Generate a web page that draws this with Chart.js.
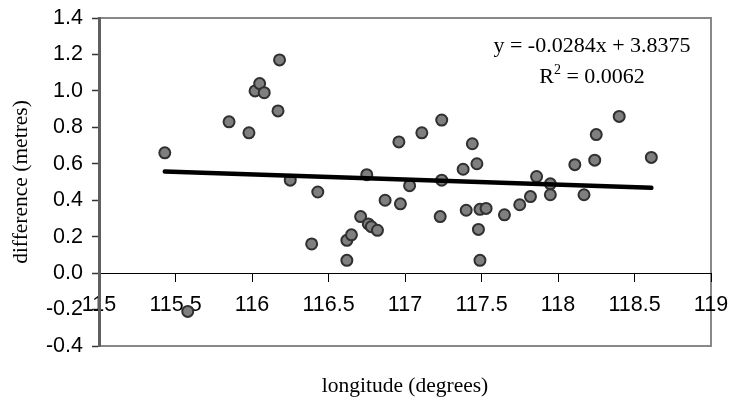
<!DOCTYPE html>
<html>
<head>
<meta charset="utf-8">
<script src="https://cdn.jsdelivr.net/npm/chart.js@4/dist/chart.umd.min.js"></script>
<style>
  body { margin: 0; background: #fff; }
  #wrap { width: 730px; height: 402px; }
</style>
</head>
<body>
<div id="wrap"><canvas id="diffChart" width="730" height="402"></canvas></div>
<script>
// longitude (degrees) / difference (metres)
const pointLon = [115.43, 115.58, 115.85, 115.98, 116.02, 116.05, 116.08, 116.17, 116.18, 116.25,
                  116.39, 116.43, 116.62, 116.62, 116.65, 116.71, 116.75, 116.76, 116.78, 116.82,
                  116.87, 116.96, 116.97, 117.03, 117.11, 117.23, 117.24, 117.24, 117.38, 117.40,
                  117.44, 117.47, 117.48, 117.49, 117.49, 117.53, 117.65, 117.75, 117.82, 117.86,
                  117.95, 117.95, 118.11, 118.17, 118.24, 118.25, 118.40, 118.61];
const pointDiff = [0.66, -0.21, 0.83, 0.77, 1.00, 1.04, 0.99, 0.89, 1.17, 0.51,
                   0.16, 0.445, 0.07, 0.18, 0.21, 0.31, 0.54, 0.27, 0.255, 0.235,
                   0.40, 0.72, 0.38, 0.48, 0.77, 0.31, 0.84, 0.51, 0.57, 0.345,
                   0.71, 0.60, 0.24, 0.07, 0.35, 0.355, 0.32, 0.375, 0.42, 0.53,
                   0.49, 0.43, 0.595, 0.43, 0.62, 0.76, 0.86, 0.635];

// linear trend line ends
const trendLon = [115.43, 118.61];
const trendDiff = [0.557, 0.468];

const equationText = "y = -0.0284x + 3.8375";
const r2Value = "0.0062";
const xTitle = "longitude (degrees)";
const yTitle = "difference (metres)";

const SANS = "'Liberation Sans', Arial, sans-serif";
const SERIF = "'Liberation Serif', 'Times New Roman', serif";

// frame + equation + x title
const extras = {
    id: 'extras',
    beforeDraw(chart) {
        const { ctx, chartArea: a } = chart;
        ctx.save();
        ctx.strokeStyle = '#888888';
        ctx.lineWidth = 2;
        ctx.beginPath();
        ctx.moveTo(a.left, a.top);
        ctx.lineTo(a.right, a.top);
        ctx.lineTo(a.right, a.bottom);
        ctx.lineTo(a.left, a.bottom);
        ctx.stroke();
        ctx.restore();
    },
    afterDraw(chart) {
        const { ctx, chartArea: a } = chart;
        ctx.save();
        ctx.fillStyle = '#000';
        ctx.textBaseline = 'alphabetic';
        const cx = a.right - 119;

        ctx.font = `22px ${SERIF}`;
        ctx.textAlign = 'center';
        ctx.fillText(equationText, cx, a.top + 34);

        // R² = ...
        const big = `22px ${SERIF}`, small = `14px ${SERIF}`;
        ctx.font = big;
        const wR = ctx.measureText('R').width;
        const wRest = ctx.measureText(' = ' + r2Value).width;
        ctx.font = small;
        const w2 = ctx.measureText('2').width;
        let x = cx - (wR + w2 + wRest) / 2;
        const base = a.top + 65;
        ctx.textAlign = 'left';
        ctx.font = big;
        ctx.fillText('R', x, base);
        ctx.font = small;
        ctx.fillText('2', x + wR, base - 9);
        ctx.font = big;
        ctx.fillText(' = ' + r2Value, x + wR + w2, base);

        ctx.font = `21.5px ${SERIF}`;
        ctx.textAlign = 'center';
        ctx.textBaseline = 'middle';
        ctx.fillText(xTitle, (a.left + a.right) / 2, 386);
        ctx.restore();
    }
};

new Chart(document.getElementById('diffChart'), {
    type: 'scatter',
    data: {
        datasets: [
            {
                label: 'difference',
                data: pointLon.map((x, i) => ({ x, y: pointDiff[i] })),
                backgroundColor: '#7f7f7f',
                borderColor: '#303030',
                borderWidth: 2,
                pointRadius: 5.5,
                pointHoverRadius: 5.5,
                order: 1
            },
            {
                label: 'trend',
                type: 'line',
                data: trendLon.map((x, i) => ({ x, y: trendDiff[i] })),
                borderColor: '#000',
                borderWidth: 4.5,
                borderCapStyle: 'round',
                pointRadius: 0,
                fill: false,
                order: 0
            }
        ]
    },
    options: {
        responsive: false,
        animation: false,
        layout: { padding: { left: 0, right: 19, top: 18, bottom: 56 } },
        plugins: { legend: { display: false }, tooltip: { enabled: false } },
        scales: {
            x: {
                type: 'linear',
                position: { y: 0 },
                min: 115, max: 119,
                afterFit: s => { s.paddingLeft = 0; s.paddingRight = 0; },
                grid: { drawOnChartArea: false, tickLength: 8, color: '#000', tickColor: '#000' },
                border: { color: '#000', width: 1 },
                ticks: {
                    stepSize: 0.5,
                    padding: 11,
                    color: '#000',
                    font: { family: SANS, size: 21.5 },
                    callback: v => String(v)
                }
            },
            y: {
                type: 'linear',
                position: 'left',
                min: -0.4, max: 1.4,
                afterFit: s => { s.width = 99; s.paddingTop = 0; s.paddingBottom = 0; },
                grid: { drawOnChartArea: false, tickLength: 7, tickColor: '#333', tickWidth: 1.5 },
                border: { color: '#5f5f5f', width: 3 },
                ticks: {
                    stepSize: 0.2,
                    padding: 9,
                    color: '#000',
                    font: { family: SANS, size: 21.5 },
                    callback: v => (Math.abs(v) < 1e-9 ? 0 : v).toFixed(1)
                },
                title: {
                    display: true,
                    text: yTitle,
                    color: '#000',
                    font: { family: SERIF, size: 21.5 },
                    padding: { top: 8, bottom: 0 }
                }
            }
        }
    },
    plugins: [extras]
});
</script>
</body>
</html>
